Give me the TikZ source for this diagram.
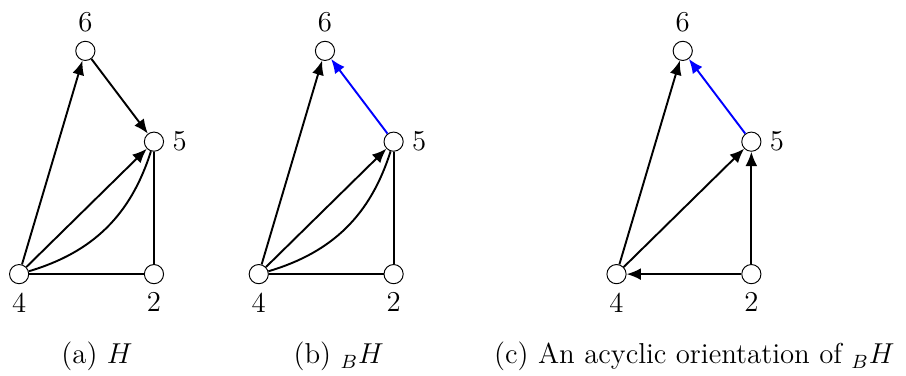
\documentclass[tikz,border=0pt]{standalone}
\usetikzlibrary{arrows.meta}
\tikzset{
  vertex/.style={circle,draw,fill=white,inner sep=0pt,minimum size=8pt},
  arc/.style={thick,-{Latex[length=6pt,width=5pt]}},
  edge/.style={thick},
  every label/.style={font=\large},
  caption/.style={font=\large}
}
\begin{document}
\begin{tikzpicture}
\useasboundingbox (0,0) rectangle (13.27,5.505);

% (a)
\node[vertex,label=above:6] (a6) at (1.25,4.76) {};
\node[vertex,label=right:5] (a5) at (2.255,3.43) {};
\node[vertex,label=below:4] (a4) at (0.28,1.49) {};
\node[vertex,label=below:2] (a2) at (2.255,1.49) {};

\draw[arc] (a4)--(a6);
\draw[arc] (a6)--(a5);
\draw[arc] (a4)--(a5);
\draw[edge] (a4) to[bend right=28] (a5);
\draw[edge] (a5)--(a2);
\draw[edge] (a4)--(a2);

\node[caption] (capa) at (1.42,0.28) {(a) $H$};

% (b)
\node[vertex,label=above:6] (b6) at (4.76,4.76) {};
\node[vertex,label=right:5] (b5) at (5.765,3.43) {};
\node[vertex,label=below:4] (b4) at (3.79,1.49) {};
\node[vertex,label=below:2] (b2) at (5.765,1.49) {};

\draw[arc] (b4)--(b6);
\draw[arc,blue] (b5)--(b6);
\draw[arc] (b4)--(b5);
\draw[edge] (b4) to[bend right=28] (b5);
\draw[edge] (b5)--(b2);
\draw[edge] (b4)--(b2);

\node[caption] (capb) at (4.96,0.28) {(b) ${}_BH$};

% (c)
\node[vertex,label=above:6] (c6) at (10.0,4.76) {};
\node[vertex,label=right:5] (c5) at (11.005,3.43) {};
\node[vertex,label=below:4] (c4) at (9.03,1.49) {};
\node[vertex,label=below:2] (c2) at (11.005,1.49) {};

\draw[arc] (c4)--(c6);
\draw[arc,blue] (c5)--(c6);
\draw[arc] (c4)--(c5);
\draw[arc] (c2)--(c5);
\draw[arc] (c2)--(c4);

\node[caption] (capc) at (10.17,0.28) {(c) An acyclic orientation of ${}_BH$};
\end{tikzpicture}
\end{document}
